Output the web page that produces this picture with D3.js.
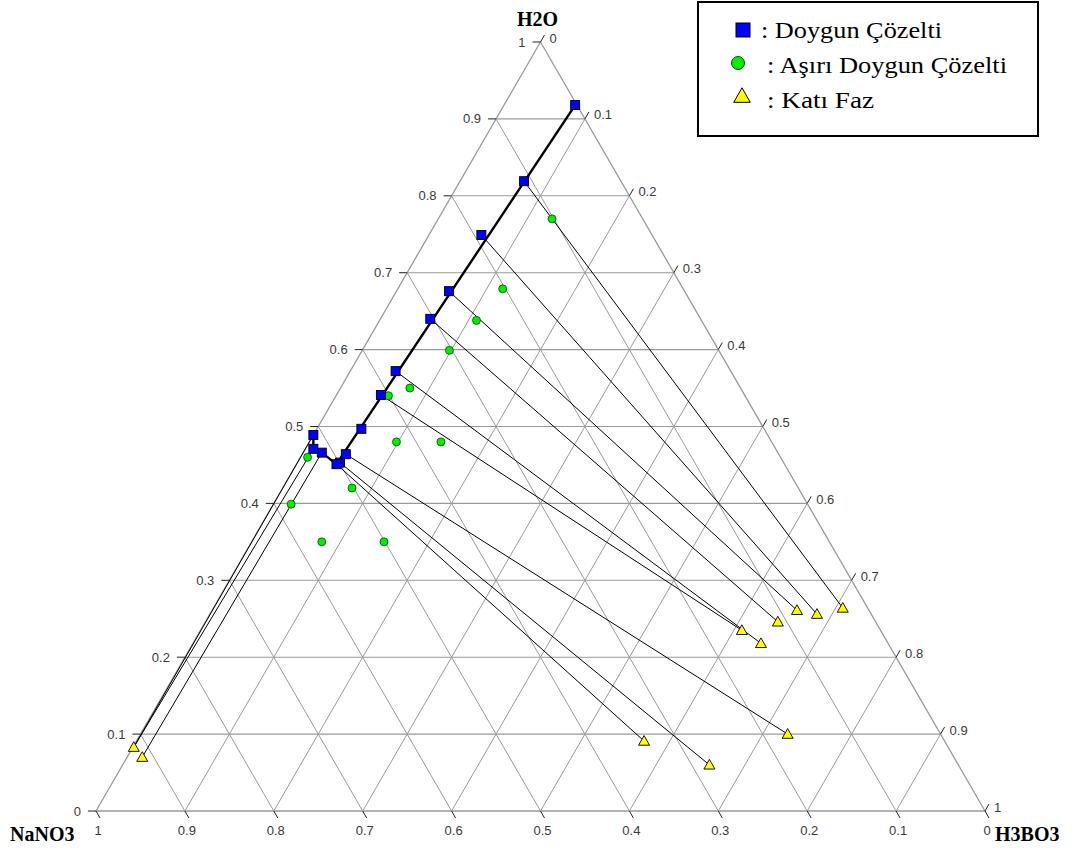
<!DOCTYPE html>
<html>
<head>
<meta charset="utf-8">
<script src="https://cdn.jsdelivr.net/npm/d3@7"></script>
<style>
  html, body { margin: 0; padding: 0; background: #fff; }
  svg { display: block; }
</style>
</head>
<body>
<svg id="chart" width="1074" height="852"></svg>
<script>
// ---------------- DATA ----------------
// Component names at the vertices
const vertexNames = ["NaNO3", "H3BO3", "H2O"];

// Saturated solution (Doygun Çözelti) – mass fractions
const satNaNO3 = [0.002, 0.109, 0.192, 0.265, 0.304, 0.377, 0.409, 0.453, 0.487, 0.499, 0.504, 0.513, 0.520, 0.511];
const satH3BO3 = [0.080, 0.072, 0.059, 0.059, 0.056, 0.051, 0.050, 0.050, 0.049, 0.048, 0.045, 0.021, 0.009, 0.000];
const satH2O   = [0.918, 0.819, 0.749, 0.676, 0.640, 0.572, 0.541, 0.497, 0.464, 0.453, 0.451, 0.466, 0.471, 0.489];

// Saturation curve drawn through these saturated points (indices)
const curvePoints = [0, 10, 11, 12, 13];

// Supersaturated solution (Aşırı Doygun Çözelti)
const supNaNO3 = [0.102, 0.203, 0.253, 0.303, 0.372, 0.401, 0.422, 0.372, 0.532, 0.502, 0.581, 0.571, 0.501];
const supH3BO3 = [0.128, 0.118, 0.109, 0.098, 0.078, 0.059, 0.098, 0.148, 0.008, 0.078, 0.020, 0.079, 0.149];
const supH2O   = [0.770, 0.679, 0.638, 0.599, 0.550, 0.540, 0.480, 0.480, 0.460, 0.420, 0.399, 0.350, 0.350];

// Solid phase (Katı Faz)
const solNaNO3 = [0.028, 0.061, 0.081, 0.110, 0.156, 0.143, 0.172, 0.338, 0.280, 0.916, 0.913];
const solH3BO3 = [0.708, 0.683, 0.658, 0.644, 0.609, 0.639, 0.728, 0.571, 0.660, 0.001, 0.017];
const solH2O   = [0.264, 0.256, 0.261, 0.246, 0.235, 0.218, 0.100, 0.091, 0.060, 0.083, 0.070];

// Tie lines: saturated point index -> solid point index
const tieFrom = [1, 2, 3, 4, 5, 6, 8, 9, 10, 11, 12, 13];
const tieTo   = [0, 1, 2, 3, 5, 4, 6, 8, 7, 10, 9, 9];

// Grid / tick values and labels
const tickValues = [0, 0.1, 0.2, 0.3, 0.4, 0.5, 0.6, 0.7, 0.8, 0.9, 1];
const tickLabels = ["0", "0.1", "0.2", "0.3", "0.4", "0.5", "0.6", "0.7", "0.8", "0.9", "1"];

// Legend
const legendLabels = [": Doygun Çözelti", ": Aşırı Doygun Çözelti", ": Katı Faz"];

// ---------------- DRAWING ----------------
const svg = d3.select("#chart");

const xScale = d3.scaleLinear().domain([0, 1]).range([96, 985]);
const yScale = d3.scaleLinear().domain([0, 1]).range([811, 42]);
// ternary projection: b = H3BO3, w = H2O
const px = (b, w) => xScale(b + w / 2);
const py = (b, w) => yScale(w);

const gridColor = "#9a9a9a";
const labelColor = "#3a3a3a";

// Grid lines
const gGrid = svg.append("g");
tickValues.filter(v => v > 0 && v < 1).forEach(v => {
  // constant H2O (horizontal)
  gGrid.append("line")
    .attr("x1", px(0, v)).attr("y1", py(0, v))
    .attr("x2", px(1 - v, v)).attr("y2", py(1 - v, v))
    .attr("stroke", gridColor).attr("stroke-width", 1.1);
  // constant H3BO3
  gGrid.append("line")
    .attr("x1", px(v, 1 - v)).attr("y1", py(v, 1 - v))
    .attr("x2", px(v, 0)).attr("y2", py(v, 0))
    .attr("stroke", gridColor).attr("stroke-width", 1);
  // constant NaNO3
  gGrid.append("line")
    .attr("x1", px(0, 1 - v)).attr("y1", py(0, 1 - v))
    .attr("x2", px(1 - v, 0)).attr("y2", py(1 - v, 0))
    .attr("stroke", gridColor).attr("stroke-width", 1);
});

// Triangle border
const corners = [[0, 0], [1, 0], [0, 1]];
svg.append("path")
  .attr("d", d3.line()(corners.map(c => [px(c[0], c[1]), py(c[0], c[1])])) + "Z")
  .attr("fill", "none").attr("stroke", gridColor).attr("stroke-width", 1.3);

// Ticks and labels
const gTicks = svg.append("g")
  .attr("font-family", "'Liberation Sans', Arial, sans-serif")
  .attr("font-size", "13px").attr("fill", labelColor);

tickValues.forEach((v, i) => {
  // Left side: H2O
  let x = px(0, v), y = py(0, v);
  gTicks.append("line").attr("x1", x).attr("y1", y).attr("x2", x - 8).attr("y2", y)
    .attr("stroke", "#222").attr("stroke-width", 1);
  gTicks.append("text").attr("x", x - 15).attr("y", y).attr("dy", "0.35em")
    .attr("text-anchor", "end").text(tickLabels[i]);

  // Right side: H3BO3
  x = px(v, 1 - v); y = py(v, 1 - v);
  gTicks.append("line").attr("x1", x).attr("y1", y).attr("x2", x + 4).attr("y2", y - 7)
    .attr("stroke", "#222").attr("stroke-width", 1);
  gTicks.append("text").attr("x", x + 9).attr("y", y - 4).attr("dy", "0.35em")
    .attr("text-anchor", "start").text(tickLabels[i]);

  // Bottom: NaNO3
  x = px(1 - v, 0); y = py(1 - v, 0);
  gTicks.append("line").attr("x1", x).attr("y1", y).attr("x2", x + 4).attr("y2", y + 7)
    .attr("stroke", "#222").attr("stroke-width", 1);
  gTicks.append("text").attr("x", x + 2).attr("y", y + 24)
    .attr("text-anchor", "middle").text(tickLabels[i]);
});

// Vertex titles
const gTitles = svg.append("g")
  .attr("font-family", "'Liberation Serif', 'Times New Roman', serif")
  .attr("font-size", "20px").attr("font-weight", "bold").attr("fill", "#000");
gTitles.append("text").attr("x", px(0, 1) - 3).attr("y", 26).attr("text-anchor", "middle").text(vertexNames[2]);
gTitles.append("text").attr("x", 10).attr("y", 841).attr("text-anchor", "start").text(vertexNames[0]);
gTitles.append("text").attr("x", 995).attr("y", 841).attr("text-anchor", "start").text(vertexNames[1]);

// Tie lines
const gTie = svg.append("g");
tieFrom.forEach((s, k) => {
  const t = tieTo[k];
  gTie.append("line")
    .attr("x1", px(satH3BO3[s], satH2O[s])).attr("y1", py(satH3BO3[s], satH2O[s]))
    .attr("x2", px(solH3BO3[t], solH2O[t])).attr("y2", py(solH3BO3[t], solH2O[t]))
    .attr("stroke", "#000").attr("stroke-width", 1);
});

// Saturation curve (thick)
svg.append("path")
  .datum(curvePoints.map(i => [px(satH3BO3[i], satH2O[i]), py(satH3BO3[i], satH2O[i])]))
  .attr("d", d3.line())
  .attr("fill", "none").attr("stroke", "#000").attr("stroke-width", 2.4)
  .attr("stroke-linejoin", "round");

// Markers
const triPath = (s) => `M0,${-s * 0.55}L${s * 0.55},${s * 0.42}L${-s * 0.55},${s * 0.42}Z`;

svg.append("g").selectAll("circle").data(supH2O).join("circle")
  .attr("cx", (w, i) => px(supH3BO3[i], w)).attr("cy", (w, i) => py(supH3BO3[i], w))
  .attr("r", 4).attr("fill", "#00ee00").attr("stroke", "#0a4a0a").attr("stroke-width", 0.8);

svg.append("g").selectAll("rect").data(satH2O).join("rect")
  .attr("x", (w, i) => px(satH3BO3[i], w) - 4.5).attr("y", (w, i) => py(satH3BO3[i], w) - 4.5)
  .attr("width", 9).attr("height", 9)
  .attr("fill", "#0000ff").attr("stroke", "#000").attr("stroke-width", 0.9);

svg.append("g").selectAll("path").data(solH2O).join("path")
  .attr("transform", (w, i) => `translate(${px(solH3BO3[i], w)},${py(solH3BO3[i], w)})`)
  .attr("d", triPath(10))
  .attr("fill", "#ffff00").attr("stroke", "#000").attr("stroke-width", 0.9);

// Legend
const gLeg = svg.append("g");
gLeg.append("rect").attr("x", 698).attr("y", 2).attr("width", 340).attr("height", 134)
  .attr("fill", "#fff").attr("stroke", "#000").attr("stroke-width", 2);
gLeg.append("rect").attr("x", 736).attr("y", 23).attr("width", 14).attr("height", 14)
  .attr("fill", "#0000ff").attr("stroke", "#000").attr("stroke-width", 1);
gLeg.append("circle").attr("cx", 738).attr("cy", 63).attr("r", 6.5)
  .attr("fill", "#00ee00").attr("stroke", "#0a4a0a").attr("stroke-width", 1);
gLeg.append("path").attr("transform", "translate(742,96)").attr("d", triPath(15))
  .attr("fill", "#ffff00").attr("stroke", "#000").attr("stroke-width", 1);

const legX = [761, 767, 767];
const legY = [38, 73, 108];
const legW = [181, 240, 107];
legendLabels.forEach((t, i) => {
  gLeg.append("text").attr("x", legX[i]).attr("y", legY[i])
    .attr("font-family", "'Liberation Serif', 'Times New Roman', serif")
    .attr("font-size", "23px").attr("fill", "#000")
    .attr("textLength", legW[i]).attr("lengthAdjust", "spacingAndGlyphs")
    .text(t);
});
</script>
</body>
</html>
